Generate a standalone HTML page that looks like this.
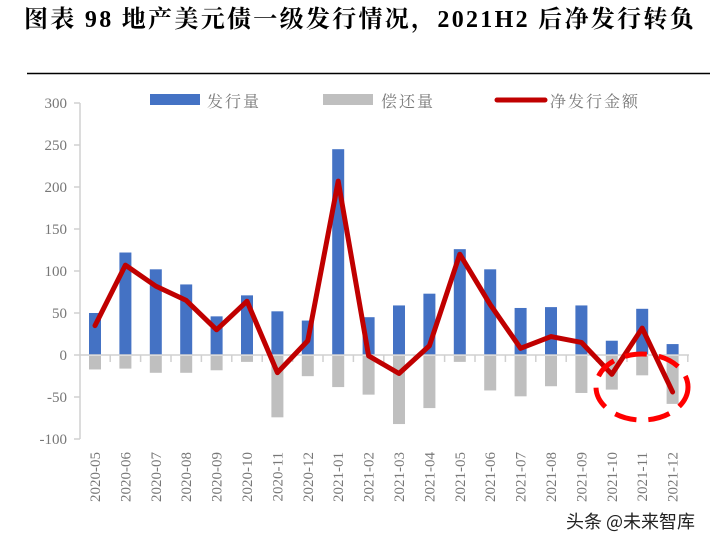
<!DOCTYPE html>
<html><head><meta charset="utf-8"><style>
body{margin:0;background:#fff;width:710px;height:546px;overflow:hidden}
</style></head><body>
<svg width="710" height="546" xmlns="http://www.w3.org/2000/svg">
<text x="24" y="27" font-family="'Liberation Serif','Noto Serif CJK SC',serif" font-weight="bold" font-size="24" letter-spacing="2.3" fill="#000">图表 98  地产美元债一级发行情况，2021H2 后净发行转负</text>
<line x1="27" y1="73.5" x2="710" y2="73.5" stroke="#000" stroke-width="1.5"/>
<g font-family="'Liberation Serif','Noto Serif CJK SC',serif" font-size="16" fill="#777" letter-spacing="2">
<rect x="150" y="94" width="50" height="11" fill="#4472c4"/><text x="207" y="107">发行量</text>
<rect x="323" y="94" width="50" height="11" fill="#bfbfbf"/><text x="381" y="107">偿还量</text>
<line x1="497" y1="100" x2="545" y2="100" stroke="#c00000" stroke-width="5" stroke-linecap="round"/><text x="550" y="107">净发行金额</text>
</g>
<g font-family="'Liberation Serif',serif" font-size="15" fill="#777" text-anchor="end">
<text x="67" y="108">300</text><text x="67" y="150">250</text><text x="67" y="192">200</text><text x="67" y="234">150</text><text x="67" y="276">100</text><text x="67" y="318">50</text><text x="67" y="360">0</text><text x="67" y="402">-50</text><text x="67" y="444">-100</text>
</g>
<g stroke="#d0d0d0" stroke-width="1.5">
<line x1="80" y1="103" x2="80" y2="439"/>
<line x1="74" y1="103" x2="80" y2="103"/><line x1="74" y1="145" x2="80" y2="145"/><line x1="74" y1="187" x2="80" y2="187"/><line x1="74" y1="229" x2="80" y2="229"/><line x1="74" y1="271" x2="80" y2="271"/><line x1="74" y1="313" x2="80" y2="313"/><line x1="74" y1="355" x2="80" y2="355"/><line x1="74" y1="397" x2="80" y2="397"/><line x1="74" y1="439" x2="80" y2="439"/>
</g>
<g id="bars"></g>
<line x1="80" y1="355" x2="689" y2="355" stroke="#d0d0d0" stroke-width="1.5"/>
<g id="ticks" stroke="#d0d0d0" stroke-width="1.5"></g>
<polyline id="net" fill="none" stroke="#c00000" stroke-width="5" stroke-linejoin="round" stroke-linecap="round"/>
<ellipse cx="642" cy="387" rx="46" ry="33" fill="none" stroke="#ff0000" stroke-width="5" stroke-dasharray="22,12"/>
<g id="labels" font-family="'Liberation Serif',serif" font-size="15" fill="#777"></g>
<text x="566" y="528" font-family="'Noto Sans CJK SC',sans-serif" font-size="18" fill="#222">头条 @未来智库</text>
</svg>
<script>
var iss=[50,122,102,84,46,71,52,41,245,45,59,73,126,102,56,57,59,17,55,13];
var rep=[-16,-15,-20,-20,-17,-7,-73,-24,-37,-46,-81,-62,-7,-41,-48,-36,-44,-40,-23,-57];
var net=[35,107,82,65,30,64,-21,17,207,-1,-22,11,120,60,8,22,15,-23,32,-44];
var lab=["2020-05","2020-06","2020-07","2020-08","2020-09","2020-10","2020-11","2020-12","2021-01","2021-02","2021-03","2021-04","2021-05","2021-06","2021-07","2021-08","2021-09","2021-10","2021-11","2021-12"];
var k=0.84,z=355,b="",t="",l="",p=[];
for(var i=0;i<20;i++){var x=95+i*30.4;
b+='<rect x="'+(x-6)+'" y="'+(z-iss[i]*k)+'" width="12" height="'+(iss[i]*k)+'" fill="#4472c4"/>';
b+='<rect x="'+(x-6)+'" y="'+(z+1)+'" width="12" height="'+(-rep[i]*k)+'" fill="#bfbfbf"/>';
t+='<line x1="'+(x+15.2)+'" y1="355" x2="'+(x+15.2)+'" y2="362"/>';
l+='<text transform="translate('+(x+5)+',452) rotate(-90)" text-anchor="end">'+lab[i]+'</text>';
p.push(x+","+(z-net[i]*k));}
document.getElementById("bars").innerHTML=b;
document.getElementById("ticks").innerHTML=t;
document.getElementById("labels").innerHTML=l;
document.getElementById("net").setAttribute("points",p.join(" "));
</script>
</body></html>
